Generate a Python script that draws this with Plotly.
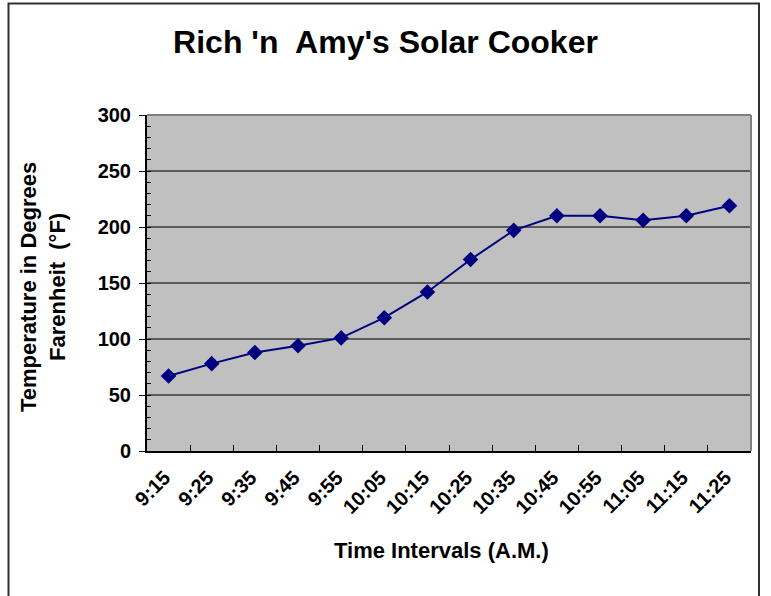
import plotly.graph_objects as go

times = ["9:15", "9:25", "9:35", "9:45", "9:55", "10:05", "10:15", "10:25",
         "10:35", "10:45", "10:55", "11:05", "11:15", "11:25"]
temps = [67, 78, 88, 94, 101, 119, 142, 171, 197, 210, 210, 206, 210, 219]

FONT = "Liberation Sans, Arial, sans-serif"
W, H = 771, 596
L, R, T, B = 147, 20, 115, 145
PW, PH = W - L - R, H - T - B

def px(x):
    return (x - L) / PW

def py(y):
    return (H - B - y) / PH

fig = go.Figure()
fig.add_trace(go.Scatter(
    x=times, y=temps, mode="lines+markers",
    line=dict(color="#000080", width=2),
    marker=dict(symbol="diamond", size=12, color="#000080"),
    showlegend=False, hoverinfo="x+y",
))

fig.update_layout(
    width=W, height=H,
    margin=dict(l=L, r=R, t=T, b=B, autoexpand=False),
    paper_bgcolor="white",
    plot_bgcolor="#C0C0C0",
    font=dict(family=FONT, color="black"),
    title=dict(
        text="<b>Rich 'n  Amy's Solar Cooker</b>",
        font=dict(size=32, family=FONT, color="black"),
        x=0.5, xref="container", xanchor="center",
        y=1 - 42 / H, yref="container", yanchor="middle",
    ),
    xaxis=dict(
        type="category", range=[-0.5, len(times) - 0.5],
        automargin=False,
        showgrid=False, zeroline=False,
        showline=True, linecolor="black", linewidth=2,
        ticks="inside", tickson="boundaries", ticklen=6, tickcolor="black", tickwidth=1,
        tickangle=-45, tickfont=dict(size=20, family=FONT, color="black"),
        ticklabelstandoff=5, ticklabelshift=-4,
        tickprefix="<b>", ticksuffix="</b>",
    ),
    yaxis=dict(
        range=[0, 300], dtick=50, tick0=0,
        automargin=False,
        showgrid=True, gridcolor="#5a5a5a", gridwidth=1.5,
        zeroline=False,
        showline=True, linecolor="black", linewidth=2,
        ticks="outside", ticklen=6, tickcolor="black", tickwidth=1,
        minor=dict(ticks="inside", dtick=10, ticklen=4, tickcolor="black", showgrid=False),
        tickfont=dict(size=20, family=FONT, color="black"),
        ticklabelstandoff=4,
        tickprefix="<b>", ticksuffix="</b>",
    ),
    shapes=[
        dict(type="line", xref="paper", yref="paper", x0=0, x1=1, y0=1, y1=1,
             line=dict(color="#808080", width=2)),
        dict(type="line", xref="paper", yref="paper", x0=1, x1=1, y0=0, y1=1,
             line=dict(color="#808080", width=2)),
        dict(type="rect", xref="paper", yref="paper",
             x0=px(8.5), x1=px(759), y0=py(612), y1=py(3.5),
             line=dict(color="#303030", width=2)),
    ],
    annotations=[
        dict(text="<b>Temperature in Degrees<br>Farenheit  (°F)</b>",
             xref="paper", yref="paper", x=px(43), y=py(287),
             xanchor="center", yanchor="middle", textangle=-90,
             showarrow=False, font=dict(size=22, family=FONT, color="black")),
        dict(text="<b>Time Intervals (A.M.)</b>",
             xref="paper", yref="paper", x=px(441), y=py(550),
             xanchor="center", yanchor="middle",
             showarrow=False, font=dict(size=22, family=FONT, color="black")),
    ],
)

fig.write_html("out.html", config={"displayModeBar": False},
               post_script="document.body.style.margin='0';")
